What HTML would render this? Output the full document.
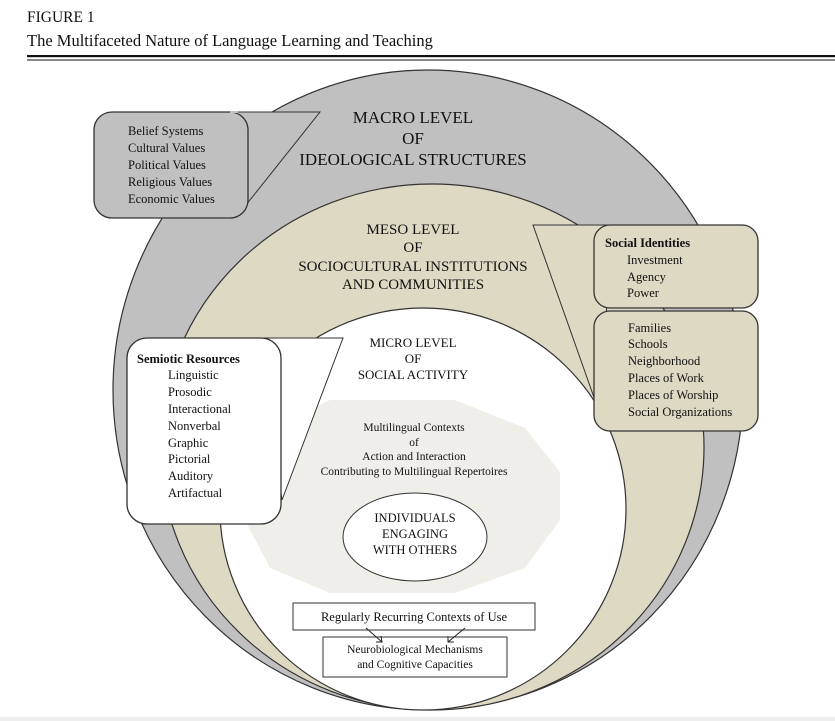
<!DOCTYPE html>
<html><head><meta charset="utf-8"><style>
body{margin:0;background:#fff;width:835px;height:721px;overflow:hidden}
svg{display:block}
text{font-family:"Liberation Serif",serif;fill:#111}
</style></head><body>
<svg width="835" height="721" viewBox="0 0 835 721">
<text x="27" y="22" font-size="15.5">FIGURE 1</text>
<text x="27" y="46" font-size="16.5">The Multifaceted Nature of Language Learning and Teaching</text>
<rect x="27" y="55" width="808" height="2.2" fill="#111"/>
<rect x="27" y="59.5" width="808" height="1" fill="#111"/>

<!-- outer macro -->
<ellipse cx="428" cy="390" rx="315" ry="320" fill="#c0c0c0" stroke="#333" stroke-width="1.2"/>
<!-- meso -->
<ellipse cx="432" cy="447" rx="272" ry="263" fill="#ddd9c3" stroke="#333" stroke-width="1.2"/>
<!-- micro -->
<ellipse cx="423" cy="509" rx="203" ry="201" fill="#fff" stroke="#333" stroke-width="1.2"/>
<!-- octagon -->
<polygon points="330,400 455,400 525,428 560,472 560,520 525,568 455,593 330,593 270,568 245,520 245,472 270,428" fill="#efeee8"/>
<ellipse cx="415" cy="537" rx="72" ry="44" fill="#fff" stroke="#333" stroke-width="1"/>

<text x="413" y="123" font-size="17" text-anchor="middle">MACRO LEVEL</text>
<text x="413" y="144" font-size="17" text-anchor="middle">OF</text>
<text x="413" y="165" font-size="17" text-anchor="middle">IDEOLOGICAL STRUCTURES</text>

<text x="413" y="234" font-size="15" text-anchor="middle">MESO LEVEL</text>
<text x="413" y="252" font-size="15" text-anchor="middle">OF</text>
<text x="413" y="271" font-size="15" text-anchor="middle">SOCIOCULTURAL INSTITUTIONS</text>
<text x="413" y="289" font-size="15" text-anchor="middle">AND COMMUNITIES</text>

<text x="413" y="347" font-size="13" text-anchor="middle">MICRO LEVEL</text>
<text x="413" y="363" font-size="13" text-anchor="middle">OF</text>
<text x="413" y="379" font-size="13" text-anchor="middle">SOCIAL ACTIVITY</text>

<text x="414" y="431" font-size="11.5" text-anchor="middle">Multilingual Contexts</text>
<text x="414" y="446" font-size="11.5" text-anchor="middle">of</text>
<text x="414" y="460" font-size="11.5" text-anchor="middle">Action and Interaction</text>
<text x="414" y="475" font-size="11.5" text-anchor="middle">Contributing to Multilingual Repertoires</text>

<text x="415" y="522" font-size="12.5" text-anchor="middle">INDIVIDUALS</text>
<text x="415" y="538" font-size="12.5" text-anchor="middle">ENGAGING</text>
<text x="415" y="554" font-size="12.5" text-anchor="middle">WITH  OTHERS</text>

<rect x="293" y="603" width="242" height="27" fill="#fff" stroke="#333" stroke-width="1"/>
<text x="414" y="621" font-size="12.5" text-anchor="middle">Regularly Recurring Contexts of Use</text>
<rect x="323" y="637" width="184" height="40" fill="#fff" stroke="#333" stroke-width="1"/>
<text x="415" y="653" font-size="11.5" text-anchor="middle">Neurobiological Mechanisms</text>
<text x="415" y="668" font-size="11.5" text-anchor="middle">and Cognitive Capacities</text>
<line x1="366" y1="628" x2="382" y2="642" stroke="#222" stroke-width="1"/>
<polyline points="376,642 382,642 381,636" fill="none" stroke="#222"/>
<line x1="465" y1="628" x2="448" y2="642" stroke="#222" stroke-width="1"/>
<polyline points="448,636 448,642 454,642" fill="none" stroke="#222"/>

<!-- belief callout -->
<polygon points="230,112 320,112 246,205" fill="#c0c0c0" stroke="#333" stroke-width="1"/>
<rect x="94" y="112" width="154" height="106" rx="18" fill="#c0c0c0" stroke="#333" stroke-width="1.3"/>
<line x1="230" y1="112" x2="238" y2="112" stroke="#c0c0c0" stroke-width="2"/>
<g font-size="12.5"><text x="128" y="135">Belief Systems</text><text x="128" y="152">Cultural Values</text><text x="128" y="169">Political Values</text><text x="128" y="186">Religious Values</text><text x="128" y="203">Economic Values</text></g>

<!-- semiotic callout -->
<polygon points="260,338 343,338 282,500" fill="#fff" stroke="#333" stroke-width="1"/>
<rect x="127" y="338" width="154" height="186" rx="20" fill="#fff" stroke="#333" stroke-width="1.3"/>
<g font-size="12.5"><text x="137" y="363" font-weight="bold">Semiotic Resources</text>
<text x="168" y="379">Linguistic</text><text x="168" y="396">Prosodic</text><text x="168" y="413">Interactional</text><text x="168" y="430">Nonverbal</text><text x="168" y="447">Graphic</text><text x="168" y="463">Pictorial</text><text x="168" y="480">Auditory</text><text x="168" y="497">Artifactual</text></g>

<!-- social callout -->
<polygon points="533,225 610,225 602,420" fill="#ddd9c3" stroke="#333" stroke-width="1"/>
<rect x="594" y="225" width="164" height="83" rx="16" fill="#ddd9c3" stroke="#333" stroke-width="1.3"/>
<rect x="594" y="311" width="164" height="120" rx="16" fill="#ddd9c3" stroke="#333" stroke-width="1.3"/>
<g font-size="12.5"><text x="605" y="247" font-weight="bold">Social Identities</text>
<text x="627" y="264">Investment</text><text x="627" y="281">Agency</text><text x="627" y="297">Power</text>
<text x="628" y="332">Families</text><text x="628" y="348">Schools</text><text x="628" y="365">Neighborhood</text><text x="628" y="382">Places of Work</text><text x="628" y="399">Places of Worship</text><text x="628" y="416">Social Organizations</text></g>

<rect x="0" y="717" width="835" height="4" fill="#eee"/>
</svg>
</body></html>
